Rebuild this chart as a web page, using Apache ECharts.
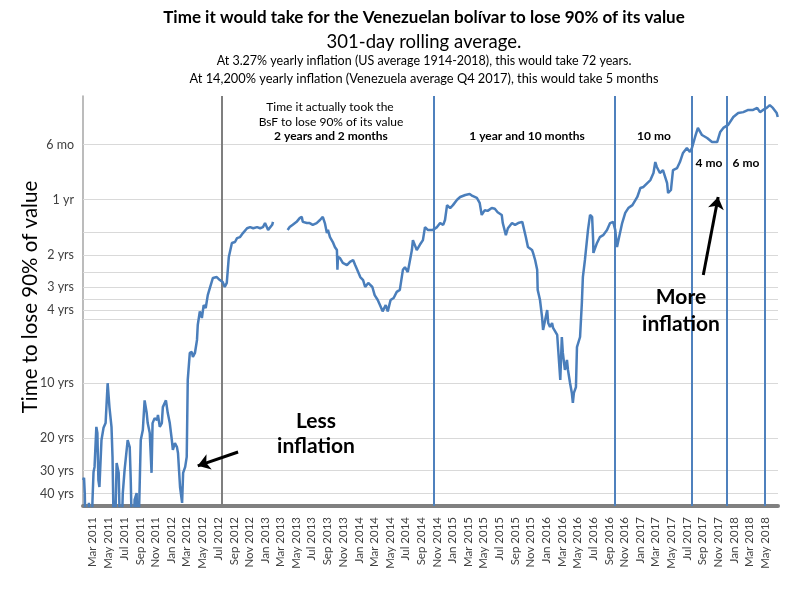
<!DOCTYPE html>
<html>
<head>
<meta charset="utf-8">
<script src="https://cdn.jsdelivr.net/npm/echarts@6/dist/echarts.min.js"></script>
<style>
html,body{margin:0;padding:0;background:#fff;}
#chart{width:801px;height:591px;}
</style>
</head>
<body>
<div id="chart"></div>
<script>
// ---- Data (time for the bolívar to lose 90% of its value, in years; 301-day rolling average) ----
// 100 = off the bottom of the chart (very low / negative inflation)
const dates = [
'2011-01-22','2011-01-26','2011-01-29','2011-02-03','2011-02-14','2011-02-22','2011-02-28','2011-03-04','2011-03-08','2011-03-15',
'2011-03-19','2011-03-23','2011-03-27','2011-04-04','2011-04-12','2011-04-20','2011-04-28','2011-05-05','2011-05-13','2011-05-17',
'2011-05-24','2011-06-02','2011-06-10','2011-06-18','2011-06-26','2011-07-03','2011-07-15','2011-07-23','2011-07-27','2011-08-03',
'2011-08-11','2011-08-19','2011-08-23','2011-09-04','2011-09-12','2011-09-19','2011-09-27','2011-10-01','2011-10-09','2011-10-16',
'2011-10-20','2011-10-28','2011-11-06','2011-11-10','2011-11-17','2011-11-25','2011-11-29','2011-12-11','2011-12-18','2011-12-26',
'2012-01-03','2012-01-07','2012-01-15','2012-01-23','2012-01-27','2012-02-04','2012-02-12','2012-02-16','2012-02-24','2012-03-01',
'2012-03-05','2012-03-13','2012-03-21','2012-03-25','2012-04-02','2012-04-10','2012-04-13','2012-04-21','2012-04-29','2012-05-06',
'2012-05-14','2012-05-22','2012-05-30','2012-06-11','2012-06-26','2012-07-08','2012-07-19','2012-07-27','2012-08-04','2012-08-12',
'2012-08-24','2012-09-05','2012-09-13','2012-09-24','2012-10-06','2012-10-22','2012-11-03','2012-11-15','2012-11-30','2012-12-12',
'2012-12-23','2012-12-31','2013-01-12','2013-01-28','2013-01-31','2013-02-15','2013-03-29','2013-04-06','2013-04-18','2013-05-03',
'2013-05-15','2013-05-23','2013-05-27','2013-06-12','2013-06-23','2013-07-05','2013-07-20','2013-08-02','2013-08-13','2013-08-21',
'2013-08-29','2013-09-02','2013-09-10','2013-09-21','2013-09-29','2013-10-07','2013-10-09','2013-10-11','2013-10-19','2013-10-30',
'2013-11-15','2013-11-27','2013-12-09','2013-12-17','2013-12-25','2014-01-06','2014-01-17','2014-01-25','2014-02-06','2014-02-22',
'2014-03-03','2014-03-15','2014-03-27','2014-04-03','2014-04-15','2014-04-23','2014-05-04','2014-05-16','2014-05-28','2014-06-09',
'2014-06-21','2014-06-29','2014-07-10','2014-07-26','2014-07-30','2014-08-14','2014-08-26','2014-09-07','2014-09-15','2014-09-26',
'2014-10-16','2014-11-01','2014-11-13','2014-11-25','2014-12-02','2014-12-10','2014-12-22','2015-01-02','2015-01-18','2015-01-30',
'2015-02-19','2015-03-08','2015-03-19','2015-04-05','2015-04-16','2015-04-24','2015-05-06','2015-05-17','2015-06-02','2015-06-14',
'2015-06-25','2015-07-11','2015-07-15','2015-07-27','2015-08-04','2015-08-20','2015-09-01','2015-09-13','2015-09-29','2015-10-06',
'2015-10-13','2015-10-21','2015-11-06','2015-11-10','2015-11-18','2015-11-26','2015-11-28','2015-12-07','2015-12-15','2015-12-19',
'2015-12-27','2016-01-04','2016-01-08','2016-01-15','2016-01-23','2016-01-27','2016-02-12','2016-02-16','2016-02-24','2016-03-01',
'2016-03-05','2016-03-13','2016-03-21','2016-03-25','2016-04-02','2016-04-09','2016-04-13','2016-04-17','2016-04-25','2016-04-29',
'2016-05-11','2016-05-18','2016-05-22','2016-05-30','2016-06-11','2016-06-19','2016-06-27','2016-07-01','2016-07-02','2016-07-16',
'2016-07-27','2016-08-09','2016-08-24','2016-09-05','2016-09-17','2016-09-25','2016-10-02','2016-10-10','2016-10-22','2016-11-03',
'2016-11-15','2016-12-01','2016-12-20','2017-01-01','2017-01-13','2017-01-28','2017-02-09','2017-02-21','2017-02-28','2017-03-06',
'2017-03-18','2017-03-30','2017-04-15','2017-04-19','2017-04-30','2017-05-08','2017-05-24','2017-06-04','2017-06-16','2017-07-01',
'2017-07-13','2017-07-21','2017-08-02','2017-08-13','2017-08-29','2017-09-18','2017-10-07','2017-10-27','2017-11-08','2017-11-20',
'2017-12-09','2017-12-29','2018-01-17','2018-02-06','2018-02-25','2018-03-16','2018-04-01','2018-04-12','2018-04-24','2018-05-08',
'2018-05-20','2018-06-01','2018-06-16','2018-06-20'
];
const years = [
33.7,32.8,40.2,100,44.9,100,43.3,30.5,28.6,17.3,
18.7,33.7,36.8,20.4,17.5,16.5,10.0,13.5,17.3,25.2,
100,27.2,30.8,100,39.7,29.7,20.4,22.3,33.7,100,
43.3,39.7,100,20.4,18.0,12.4,14.5,16.5,18.7,30.8,
16.5,15.5,15.9,14.9,17.3,16.5,13.5,12.4,14.5,16.5,
20.4,23.1,21.2,22.3,24.0,36.8,44.9,30.8,28.6,25.2,
9.6,6.84,6.76,7.19,6.84,5.81,4.82,4.06,4.41,3.75,
3.89,3.31,3.03,2.67,2.64,2.74,2.81,2.99,2.84,2.05,
1.72,1.70,1.62,1.60,1.52,1.43,1.41,1.43,1.41,1.43,
1.41,1.34,1.46,1.37,1.32,null,1.46,1.41,1.37,1.32,
1.26,1.24,1.32,1.34,1.34,1.37,1.34,1.29,1.24,1.34,
1.52,1.46,1.60,1.70,1.81,1.88,2.41,2.05,2.08,2.21,
2.27,2.18,2.13,2.27,2.41,2.64,2.74,2.99,2.84,2.99,
3.31,3.52,3.84,4.06,3.75,4.06,3.52,3.43,3.18,3.10,
2.41,2.33,2.48,1.88,1.66,1.88,1.76,1.66,1.41,1.46,
1.46,1.41,1.34,1.37,1.29,1.07,1.11,1.07,1.00,0.966,
0.942,0.931,0.954,0.978,1.04,1.21,1.14,1.15,1.11,1.12,
1.17,1.21,1.34,1.56,1.43,1.34,1.37,1.34,1.32,1.34,
1.60,1.81,1.88,1.95,2.13,2.41,3.10,3.52,4.36,5.13,
4.52,3.99,4.70,4.94,4.70,5.0,5.46,6.59,9.6,5.60,
6.84,8.47,7.47,8.47,9.97,11.3,12.8,11.3,10.5,6.35,
5.60,3.66,2.64,2.13,1.46,1.21,1.24,1.66,1.95,1.72,
1.60,1.56,1.46,1.34,1.32,1.46,1.81,1.60,1.34,1.18,
1.11,1.07,0.966,0.863,0.852,0.811,0.781,0.715,0.623,0.663,
0.715,0.689,0.811,0.919,0.885,0.689,0.672,0.623,0.556,0.522,
0.549,0.522,0.455,0.406,0.444,0.461,0.485,0.485,0.427,0.406,
0.391,0.354,0.337,0.333,0.324,0.324,0.316,0.333,0.324,0.316,
0.305,0.316,0.337,0.354
];

// y gridlines (years) and their labels
const gridValues = [0.5, 1, 1.5, 2, 2.5, 3, 3.5, 4, 4.5, 10, 20, 30, 40];
const gridLabels = ['6 mo', '1 yr', '', '2 yrs', '', '3 yrs', '', '4 yrs', '', '10 yrs', '20 yrs', '30 yrs', '40 yrs'];

// x-axis tick labels (every two months)
const tickMonths = [
'2011-03','2011-05','2011-07','2011-09','2011-11','2012-01','2012-03','2012-05','2012-07','2012-09',
'2012-11','2013-01','2013-03','2013-05','2013-07','2013-09','2013-11','2014-01','2014-03','2014-05',
'2014-07','2014-09','2014-11','2015-01','2015-03','2015-05','2015-07','2015-09','2015-11','2016-01',
'2016-03','2016-05','2016-07','2016-09','2016-11','2017-01','2017-03','2017-05','2017-07','2017-09',
'2017-11','2018-01','2018-03','2018-05'
];

// period boundaries
const grayBoundary = '2012-07-15';
const blueBoundaries = ['2014-10-20', '2016-09-25', '2017-07-21', '2017-12-05', '2018-05-01'];

// annotation arrows [from, to] as [date, years]
const lessArrow = [['2012-09-17', 23.7], ['2012-04-13', 28.2]];
const moreArrow = [['2017-09-03', 2.57], ['2017-10-31', 0.966]];

const MONTHS = ['Jan','Feb','Mar','Apr','May','Jun','Jul','Aug','Sep','Oct','Nov','Dec'];
function ts(s) { const p = s.split('-'); return new Date(+p[0], +p[1] - 1, p[2] ? +p[2] : 1).getTime(); }
const tickValues = tickMonths.map(ts);

const FONT = 'Lato, "Open Sans", sans-serif';
const seriesData = dates.map((d, i) => [ts(d), years[i]]);

const gridMarks = gridValues.map((v, i) => ({
  yAxis: v,
  label: { show: gridLabels[i] !== '', formatter: gridLabels[i] }
}));
gridMarks.push({ yAxis: 0.272, label: { show: false } });

const vMarks = [{ xAxis: ts(grayBoundary), lineStyle: { color: '#7f7f7f', width: 2, type: 'solid' } }]
  .concat(blueBoundaries.map(d => ({ xAxis: ts(d), lineStyle: { color: '#4f81bd', width: 2, type: 'solid' } })));

function arrow(a) {
  return [
    { coord: [ts(a[0][0]), a[0][1]], symbol: 'none', label: { show: false }, lineStyle: { color: '#000', width: 3, type: 'solid' } },
    { coord: [ts(a[1][0]), a[1][1]], symbol: 'arrow', symbolSize: 12 }
  ];
}

function txt(text, x, y, font) {
  return { type: 'text', silent: true, z: 10, style: { text: text, x: x, y: y, textAlign: 'center', textVerticalAlign: 'middle', font: font + ' ' + FONT, fill: '#000' } };
}

const chart = echarts.init(document.getElementById('chart'), null, { renderer: 'canvas' });
chart.setOption({
  animation: false,
  backgroundColor: '#ffffff',
  textStyle: { fontFamily: FONT },
  grid: { left: 83, top: 96, width: 695, height: 410, containLabel: false },
  xAxis: {
    type: 'value',
    min: ts('2011-01-22'),
    max: ts('2018-06-21'),
    axisLine: { show: true, onZero: false, lineStyle: { color: '#808080', width: 4 } },
    axisTick: { show: false },
    splitLine: { show: false },
    axisLabel: {
      customValues: tickValues,
      rotate: 90,
      margin: 11,
      fontSize: 11.5,
      color: '#404040',
      fontFamily: FONT,
      formatter: v => { const d = new Date(v); return MONTHS[d.getMonth()] + ' ' + d.getFullYear(); }
    }
  },
  yAxis: {
    type: 'log',
    logBase: 10,
    inverse: true,
    min: 0.272,
    max: 46.7,
    name: 'Time to lose 90% of value',
    nameLocation: 'middle',
    nameGap: 42,
    nameRotate: 90,
    nameTextStyle: { fontSize: 20.5, color: '#000', fontFamily: FONT, padding: [0, 0, 0, 8] },
    axisLine: { show: true, lineStyle: { color: '#a6a6a6', width: 1.5 } },
    axisTick: { show: false },
    axisLabel: { show: false },
    splitLine: { show: false }
  },
  series: [
    {
      type: 'line',
      data: seriesData,
      showSymbol: false,
      connectNulls: false,
      clip: true,
      z: 3,
      lineStyle: { color: '#4a7ebb', width: 2.5 },
      itemStyle: { color: '#4a7ebb' },
      markLine: {
        silent: true,
        symbol: ['none', 'none'],
        animation: false,
        z: 1,
        lineStyle: { color: '#d9d9d9', width: 1, type: 'solid' },
        label: { position: 'start', distance: 9, fontSize: 12.5, color: '#404040', fontFamily: FONT },
        data: gridMarks.concat(vMarks.map(m => Object.assign({ label: { show: false } }, m)))
          .concat([arrow(lessArrow), arrow(moreArrow)])
      }
    }
  ],
  graphic: [
    txt('Time it would take for the Venezuelan bolívar to lose 90% of its value', 424, 18, 'bold 17px'),
    txt('301-day rolling average.', 424, 42, '18.5px'),
    txt('At 3.27% yearly inflation (US average 1914-2018), this would take 72 years.', 424, 61, '12.5px'),
    txt('At 14,200% yearly inflation (Venezuela average Q4 2017), this would take 5 months', 424, 79, '12.8px'),
    txt('Time it actually took the', 330, 107, '12px'),
    txt('BsF to lose 90% of its value', 331, 122, '12px'),
    txt('2 years and 2 months', 331, 136, 'bold 12px'),
    txt('1 year and 10 months', 527, 136, 'bold 12px'),
    txt('10 mo', 654, 136, 'bold 12px'),
    txt('4 mo', 709, 163, 'bold 12px'),
    txt('6 mo', 746, 163, 'bold 12px'),
    txt('Less', 316, 421, 'bold 21px'),
    txt('inflation', 316, 446, 'bold 21px'),
    txt('More', 681, 297, 'bold 21px'),
    txt('inflation', 681, 324, 'bold 21px')
  ]
});
</script>
</body>
</html>
